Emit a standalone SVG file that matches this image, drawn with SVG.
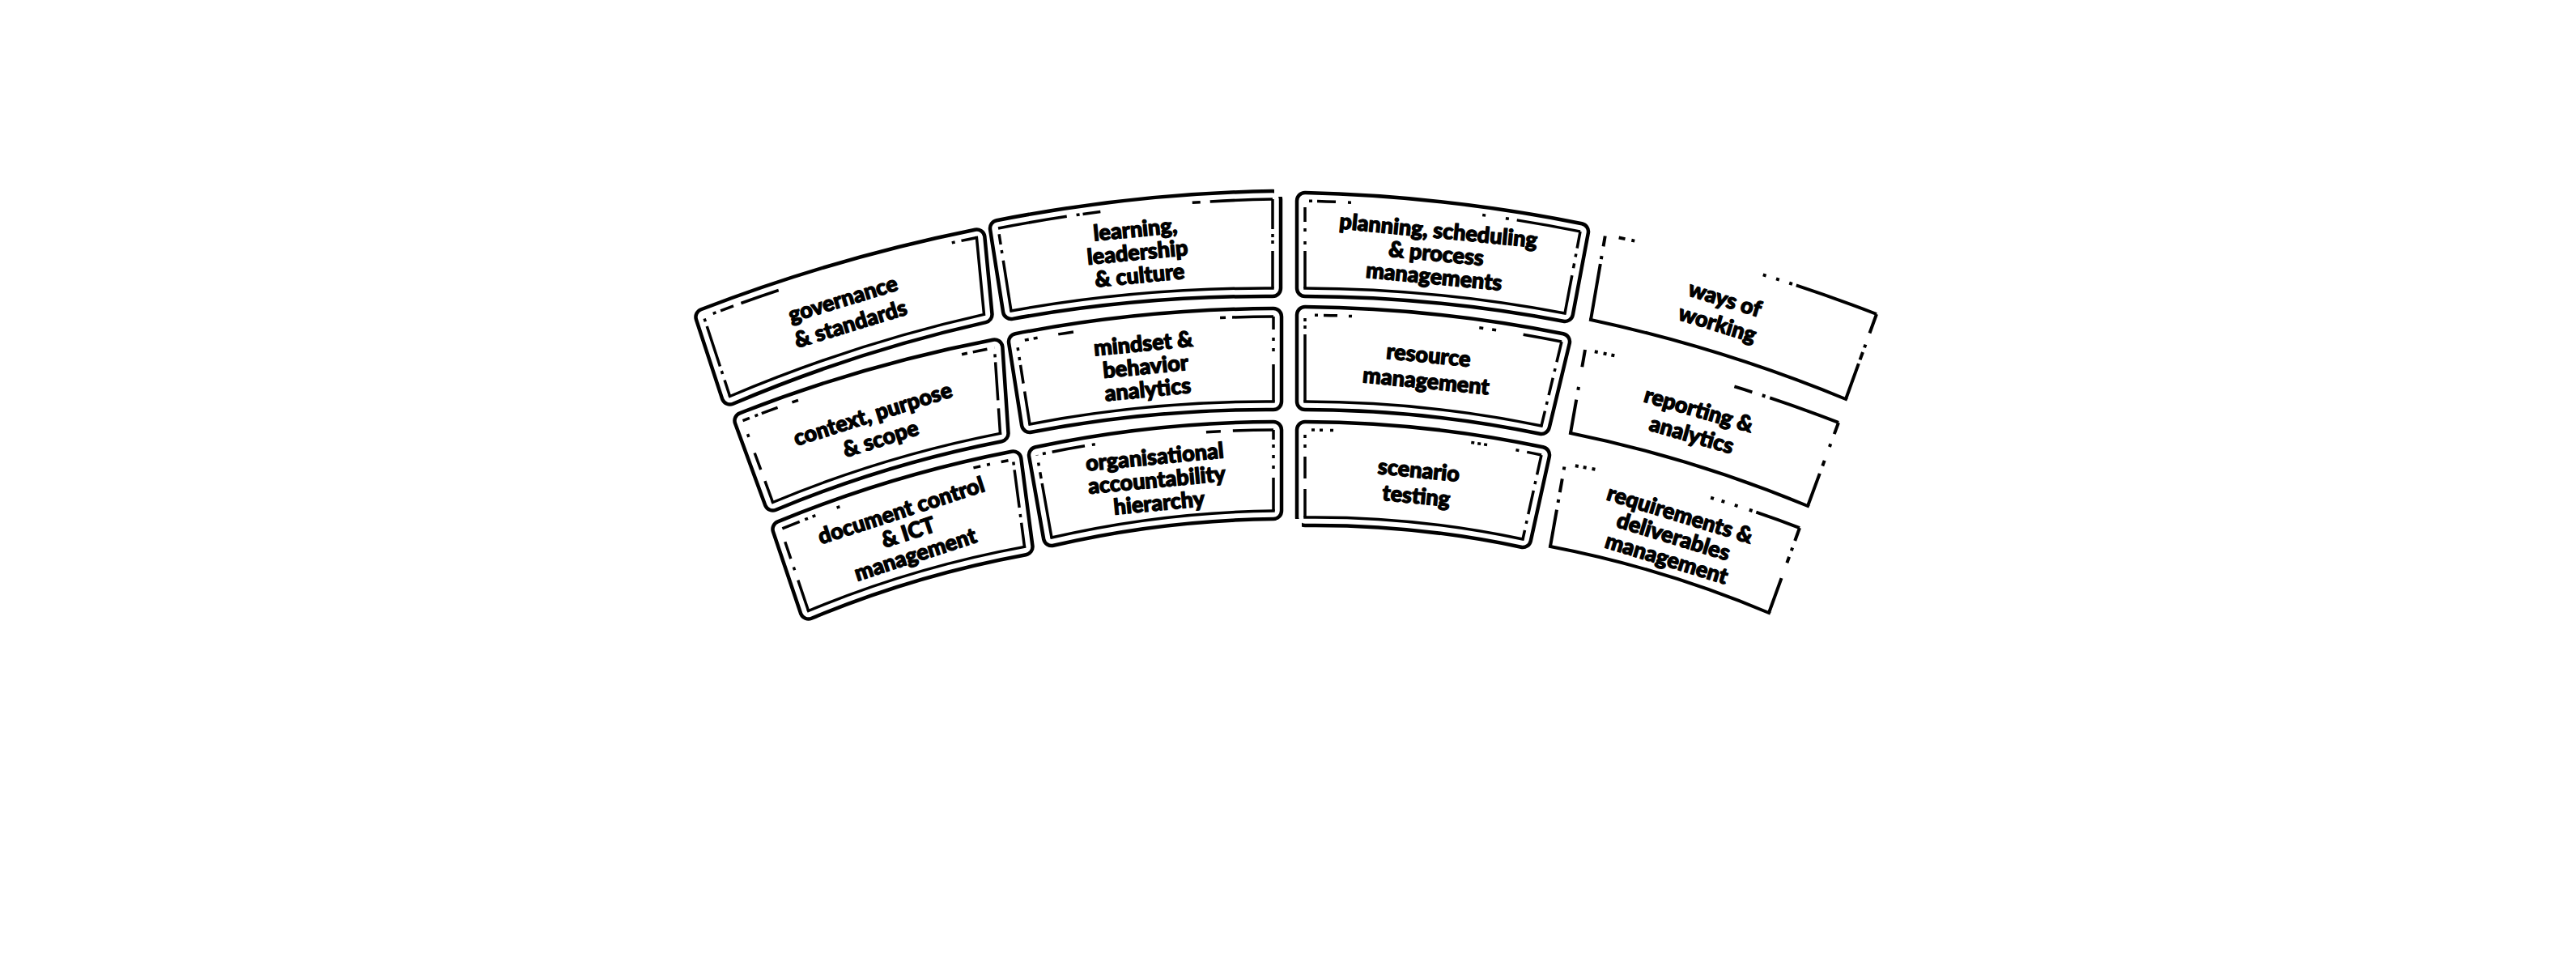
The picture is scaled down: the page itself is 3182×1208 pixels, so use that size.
<svg xmlns="http://www.w3.org/2000/svg" xmlns:xlink="http://www.w3.org/1999/xlink" width="3182" height="1208" viewBox="0 0 3182 1208">
<style>
.rb{fill:none;stroke:#000;stroke-width:24.5;stroke-linejoin:round}
.rw{fill:#fff;stroke:#fff;stroke-width:15.5;stroke-linejoin:round}
.in{fill:none;stroke:#000;stroke-width:3.5}
.sq{fill:none;stroke:#000;stroke-width:3.5;stroke-linecap:square}
.ol{fill:none;stroke:#000;stroke-width:4}
.ols{fill:none;stroke:#000;stroke-width:4;stroke-linecap:square}
.gap{fill:#fff}
text{font-family:Lato,"Open Sans","Liberation Sans",sans-serif;font-weight:900;font-size:27px;text-anchor:middle;fill:#000;stroke:#000;stroke-width:1.3;stroke-linejoin:round}
</style>
<defs>
<path id="p-gov" d="M869.5 391.6 Q1033.6 328.3 1206.4 293.5 L1215.5 388.4 Q1054.2 424.7 901.6 489.5 Z"/>
<path id="p-ctx" d="M917.5 519.6 Q1068.6 460.3 1228.4 429.5 L1235.5 535.4 Q1090.7 563.7 954.6 620.5 Z"/>
<path id="p-doc" d="M964.5 653.6 Q1103.6 596.3 1251.4 567.5 L1265.5 675.4 Q1127.7 700.7 998.6 754.5 Z"/>
<path id="p-lrn" d="M1233 282 Q1400.9 249.1 1572 246 L1572 356 Q1408.9 355.1 1249 384 Z"/>
<path id="p-mnd" d="M1256 422 Q1412.9 391.6 1573 391 L1573 496 Q1420.9 495.1 1272 524 Z"/>
<path id="p-org" d="M1281 562 Q1425.4 531.6 1573 531 L1573 631 Q1434.4 632.6 1299 664 Z"/>
<path id="p-pln" d="M1612 248 Q1783.6 252.1 1952 286 L1933 387 Q1774.1 356.6 1612 356 Z"/>
<path id="p-res" d="M1612 389 Q1772.1 390.6 1929 422 L1904 526 Q1759.6 496.1 1612 496 Z"/>
<path id="p-scn" d="M1612 531 Q1759.6 531.6 1904 562 L1881 666 Q1748.1 637.6 1612 639 Z"/>
</defs>
<rect width="3182" height="1208" fill="#fff"/>

<g id="node-governance">
<use xlink:href="#p-gov" href="#p-gov" class="rb"/><use xlink:href="#p-gov" href="#p-gov" class="rw"/>
<path class="in" d="M869.5 391.6 Q1033.6 328.3 1206.4 293.5" stroke-dasharray="0 12 4 6 17 10 49 222 4 8 20"/>
<path class="sq" d="M1206.4 293.5 L1215.5 388.4 Q1054.2 424.7 901.6 489.5"/>
<path class="in" d="M901.6 489.5 L869.5 391.6" stroke-dasharray="21 8 4 6 52 6 4 10"/>
<g transform="translate(1046 385) rotate(-17)"><text y="-7">governance</text><text y="25">&amp; standards</text></g>
</g>

<g id="node-context">
<use xlink:href="#p-ctx" href="#p-ctx" class="rb"/><use xlink:href="#p-ctx" href="#p-ctx" class="rw"/>
<path class="in" d="M917.5 519.6 Q1068.6 460.3 1228.4 429.5" stroke-dasharray="9 7 4 5 21 19 8 210 7 7 18 9"/>
<path class="in" d="M1228.4 429.5 L1235.5 535.4" stroke-dasharray="0 8 4 6 47 10 30"/>
<path class="sq" d="M1235.5 535.4 Q1090.7 563.7 954.6 620.5"/>
<path class="in" d="M954.6 620.5 L917.5 519.6" stroke-dasharray="28 15 22 21 4 18"/>
<g transform="translate(1083 527) rotate(-17.5)"><text y="-7">context, purpose</text><text y="25">&amp; scope</text></g>
</g>

<g id="node-document">
<use xlink:href="#p-doc" href="#p-doc" class="rb"/><use xlink:href="#p-doc" href="#p-doc" class="rw"/>
<path class="in" d="M964.5 653.6 Q1103.6 596.3 1251.4 567.5" stroke-dasharray="0 2 23 7 4 6 4 28 4 172 9 8 4 14 9 6"/>
<path class="in" d="M1251.4 567.5 L1265.5 675.4" stroke-dasharray="0 3 4 6 47 8 4 7 30"/>
<path class="sq" d="M1265.5 675.4 Q1127.7 700.7 998.6 754.5"/>
<path class="in" d="M998.6 754.5 L964.5 653.6" stroke-dasharray="40 13 4 11 22 17"/>
<g transform="translate(1122 658) rotate(-18)"><text y="-19.5">document control</text><text y="9">&amp; ICT</text><text y="37.5">management</text></g>
</g>

<g id="node-learning">
<use xlink:href="#p-lrn" href="#p-lrn" class="rb"/><use xlink:href="#p-lrn" href="#p-lrn" class="rw"/>
<rect class="gap" x="1574" y="226" width="16" height="17"/>
<path class="in" d="M1233 282 Q1400.9 249.1 1572 246" stroke-dasharray="86 12 4 4 22 114 10 12 80"/>
<path class="in" d="M1572 246 L1572 356" stroke-dasharray="37 6 4 4 4 9 50"/>
<path class="sq" d="M1572 356 Q1408.9 355.1 1249 384"/>
<path class="in" d="M1249 384 L1233 282" stroke-dasharray="63 9 4 7 13 20"/>
<g transform="translate(1405 312) rotate(-5.5)"><text y="-19.5">learning,</text><text y="9">leadership</text><text y="37.5">&amp; culture</text></g>
</g>

<g id="node-mindset">
<use xlink:href="#p-mnd" href="#p-mnd" class="rb"/><use xlink:href="#p-mnd" href="#p-mnd" class="rw"/>
<path class="in" d="M1256 422 Q1412.9 391.6 1573 391" stroke-dasharray="0 10 5 6 5 26 19 182 7 8 60"/>
<path class="in" d="M1573 391 L1573 496" stroke-dasharray="16 10 4 9 4 16 50"/>
<path class="sq" d="M1573 496 Q1420.9 495.1 1272 524"/>
<path class="in" d="M1272 524 L1256 422" stroke-dasharray="41 10 23 6 4 8 4 10"/>
<g transform="translate(1415 453) rotate(-5.5)"><text y="-19.5">mindset &amp;</text><text y="9">behavior</text><text y="37.5">analytics</text></g>
</g>

<g id="node-organisational">
<use xlink:href="#p-org" href="#p-org" class="rb"/><use xlink:href="#p-org" href="#p-org" class="rw"/>
<rect class="gap" x="1577" y="642" width="14" height="14"/>
<path class="in" d="M1281 562 Q1425.4 531.6 1573 531" stroke-dasharray="0 7 4 8 41 9 4 138 18 15 54"/>
<path class="in" d="M1573 531 L1573 631" stroke-dasharray="12 6 4 9 4 9 4 11 41"/>
<path class="sq" d="M1573 631 Q1434.4 632.6 1299 664"/>
<path class="in" d="M1299 664 L1281 562" stroke-dasharray="68 6 8 8 4 9"/>
<g transform="translate(1429 593) rotate(-5.5)"><text y="-19.5">organisational</text><text y="9">accountability</text><text y="37.5">hierarchy</text></g>
</g>

<g id="node-planning">
<use xlink:href="#p-pln" href="#p-pln" class="rb"/><use xlink:href="#p-pln" href="#p-pln" class="rw"/>
<path class="in" d="M1612 248 Q1783.6 252.1 1952 286" stroke-dasharray="0 5 4 6 23 15 4 163 4 25 4 10 79"/>
<path class="in" d="M1952 286 L1933 387" stroke-dasharray="21 7 4 8 6 9 48"/>
<path class="sq" d="M1933 387 Q1774.1 356.6 1612 356"/>
<path class="in" d="M1612 356 L1612 248" stroke-dasharray="46 8 4 12 4 8 18 8"/>
<g transform="translate(1774 314) rotate(5.5)" style="font-size:23px"><text y="-20">planning, scheduling</text><text y="8.5">&amp; process</text><text y="37">managements</text></g>
</g>

<g id="node-resource">
<use xlink:href="#p-res" href="#p-res" class="rb"/><use xlink:href="#p-res" href="#p-res" class="rw"/>
<path class="in" d="M1612 389 Q1772.1 390.6 1929 422" stroke-dasharray="0 12 4 7 17 14 4 158 5 11 5 34 48"/>
<path class="in" d="M1929 422 L1904 526" stroke-dasharray="26 8 4 8 22 8 4 8 19"/>
<path class="sq" d="M1904 526 Q1759.6 496.1 1612 496"/>
<path class="in" d="M1612 496 L1612 389" stroke-dasharray="83 7 4 5 4 4"/>
<g transform="translate(1763 455) rotate(5.5)"><text y="-7">resource</text><text y="25">management</text></g>
</g>

<g id="node-scenario">
<use xlink:href="#p-scn" href="#p-scn" class="rb"/><use xlink:href="#p-scn" href="#p-scn" class="rw"/>
<rect class="gap" x="1595" y="641" width="13" height="14"/>
<path class="in" d="M1612 531 Q1759.6 531.6 1904 562" stroke-dasharray="0 8 4 6 4 9 4 171 4 4 4 4 4 36 4 10 18"/>
<path class="in" d="M1904 562 L1881 666" stroke-dasharray="25 8 4 8 30 8 4 8 12"/>
<path class="sq" d="M1881 666 Q1748.1 637.6 1612 639"/>
<path class="in" d="M1612 639 L1612 531" stroke-dasharray="35 13 27 11 4 8 4 6"/>
<g transform="translate(1751 597) rotate(5.5)"><text y="-7">scenario</text><text y="25">testing</text></g>
</g>

<g id="node-ways">
<path class="ol" d="M1983 290 Q2154.9 324.7 2318 388" stroke-dasharray="0 17 8 8 4 164 4 13 4 13 4 5 108"/>
<path class="ol" d="M2318 388 L2280 493" stroke-dasharray="25 15 4 6 10 5 47"/>
<path class="ols" d="M2280 493 Q2126.9 429.7 1965 395"/>
<path class="ol" d="M1965 395 L1983 290" stroke-dasharray="70 6 4 12 13 2"/>
<g transform="translate(2126 385) rotate(17)"><text y="-7">ways of</text><text y="25">working</text></g>
</g>

<g id="node-reporting">
<path class="ol" d="M1958 432 Q2118.9 462.7 2271 522" stroke-dasharray="0 12 4 7 4 6 4 153 23 13 4 6 90"/>
<path class="ol" d="M2271 522 L2233 625" stroke-dasharray="15 13 4 18 7 10 43"/>
<path class="ols" d="M2233 625 Q2090.9 565.7 1940 535"/>
<path class="ol" d="M1940 535 L1958 432" stroke-dasharray="42 12 4 25 22"/>
<g transform="translate(2094 522) rotate(16)"><text y="-7">reporting &amp;</text><text y="25">analytics</text></g>
</g>

<g id="node-requirements">
<path class="ol" d="M1933 573 Q2082.4 598.2 2223 652" stroke-dasharray="0 13 4 6 4 7 4 147 4 10 4 13 4 15 4 5 55"/>
<path class="ol" d="M2223 652 L2185 757" stroke-dasharray="17 9 4 8 8 20 46"/>
<path class="ols" d="M2185 757 Q2054.4 701.7 1915 675"/>
<path class="ol" d="M1915 675 L1933 573" stroke-dasharray="46 9 4 9 17 11 4 4"/>
<g transform="translate(2067 663) rotate(17)"><text y="-19.5">requirements &amp;</text><text y="9">deliverables</text><text y="37.5">management</text></g>
</g>

<g id="connectors"/>
</svg>
